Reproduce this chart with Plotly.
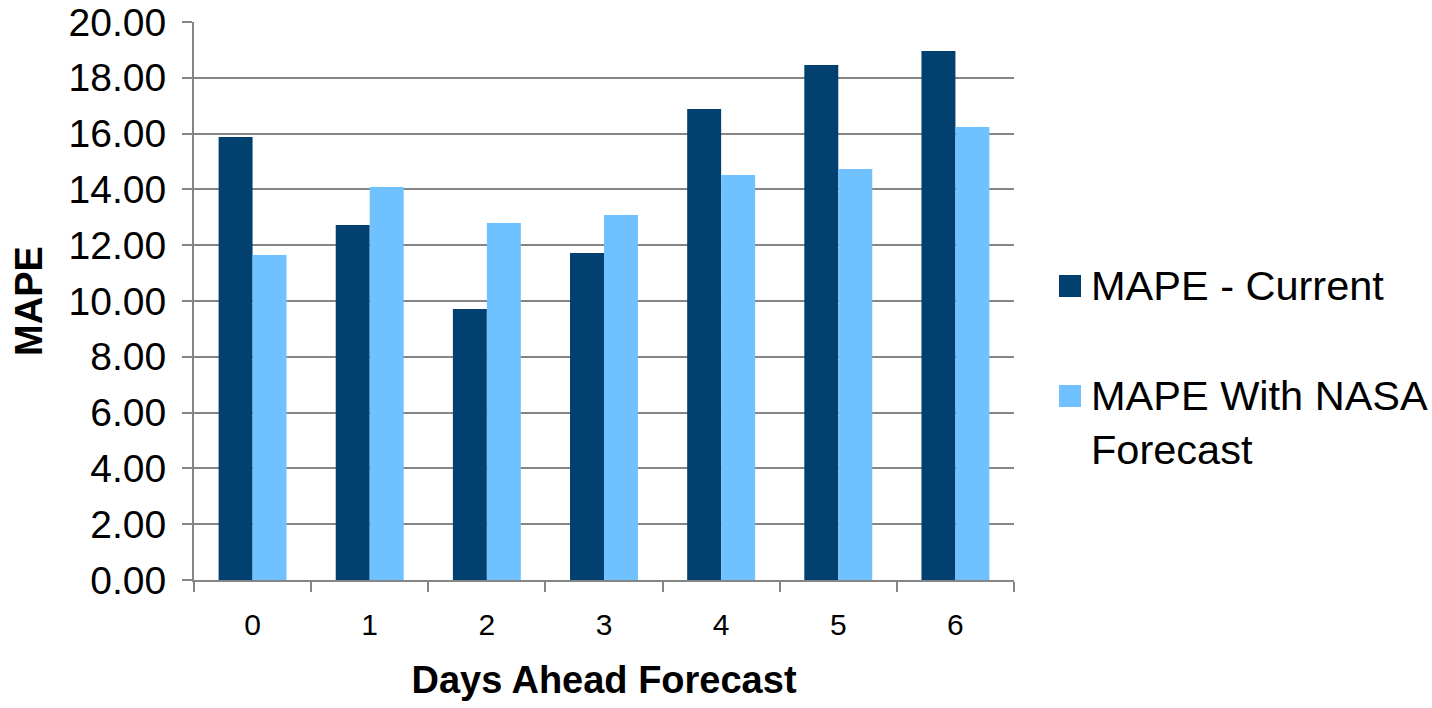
import plotly.graph_objects as go

# Forecast horizon (days ahead) and MAPE values for each method
days = ["0", "1", "2", "3", "4", "5", "6"]
mape_current = [15.88, 12.72, 9.71, 11.72, 16.88, 18.46, 18.96]
mape_nasa = [11.65, 14.09, 12.80, 13.08, 14.52, 14.73, 16.24]
series_names = ["MAPE - Current", "MAPE With NASA<br>Forecast"]
series_colors = ["#02416F", "#70C1FF"]
y_ticks = [0, 2, 4, 6, 8, 10, 12, 14, 16, 18, 20]

W, H = 1432, 708
ML, MR, MT, MB = 194, 418, 22, 128
PW, PH = W - ML - MR, H - MT - MB
FONT = "Liberation Sans, Arial, sans-serif"
GRID = "#868686"


def px_x(px):
    return (px - ML) / PW


def px_y(py):
    return (H - MB - py) / PH


fig = go.Figure()
for name, vals, col in zip(series_names, [mape_current, mape_nasa], series_colors):
    fig.add_trace(go.Bar(x=days, y=vals, name=name, marker=dict(color=col, line=dict(width=0)),
                         showlegend=False))

# Legend drawn as colour squares plus text labels
legend_rows = [(275, 287), (385, 397)]
for (top, mid), name, col in zip(legend_rows, series_names, series_colors):
    fig.add_shape(type="rect", xref="paper", yref="paper",
                  x0=px_x(1059), x1=px_x(1081), y0=px_y(top + 22), y1=px_y(top),
                  fillcolor=col, line=dict(width=0))
    fig.add_annotation(xref="paper", yref="paper", x=px_x(1089), y=px_y(mid - 27),
                       xanchor="left", yanchor="top", align="left", showarrow=False,
                       text=name, font=dict(family=FONT, size=41.5, color="black"))

fig.update_layout(
    width=W, height=H,
    margin=dict(l=ML, r=MR, t=MT, b=MB, pad=0, autoexpand=False),
    paper_bgcolor="white", plot_bgcolor="white",
    barmode="group", bargap=0.42, bargroupgap=0,
    font=dict(family=FONT, color="black"),
)

fig.update_layout(xaxis=dict(
    type="category", automargin=False, showline=True, linecolor=GRID, linewidth=2,
    ticks="outside", tickson="boundaries", ticklen=10, tickwidth=2, tickcolor=GRID,
    tickfont=dict(family=FONT, size=30, color="black"), ticklabelstandoff=17,
    showgrid=False,
    title=dict(text="<b>Days Ahead Forecast</b>", font=dict(size=38, color="black"), standoff=26),
))
fig.update_yaxes(
    range=[0, 20], tickvals=y_ticks, tickformat=".2f", automargin=False,
    showline=True, linecolor=GRID, linewidth=2,
    ticks="outside", ticklen=10, tickwidth=2, tickcolor=GRID,
    tickfont=dict(size=39, color="black"), ticklabelstandoff=8,
    showgrid=True, gridcolor=GRID, gridwidth=2, zeroline=False,
    title=dict(text="<b>MAPE</b>", font=dict(size=38, color="black"), standoff=14),
)

fig.write_html("out.html")
